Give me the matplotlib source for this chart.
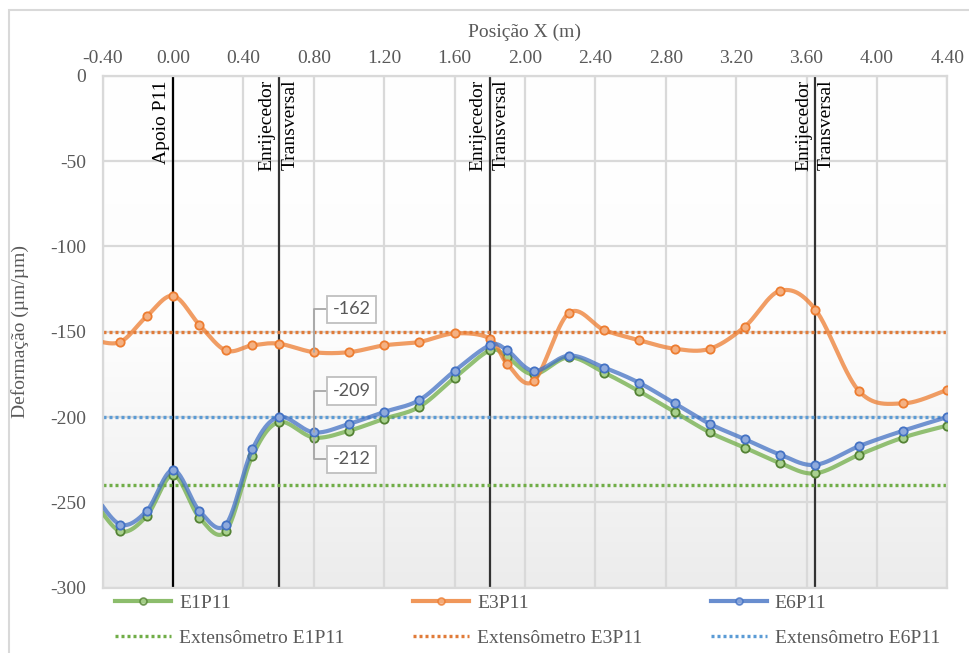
import numpy as np
import matplotlib
matplotlib.use('Agg')
import matplotlib.pyplot as plt
from matplotlib.lines import Line2D
from matplotlib.patches import Rectangle
from matplotlib.colors import LinearSegmentedColormap

plt.rcParams['axes.unicode_minus'] = False
plt.rcParams['font.family'] = ['Liberation Serif', 'DejaVu Serif']

# ---------------- data ----------------
x_pos = [-0.45, -0.30, -0.15, 0.00, 0.15, 0.30, 0.45, 0.60, 0.80, 1.00, 1.20, 1.40,
         1.60, 1.80, 1.90, 2.05, 2.25, 2.45, 2.65, 2.85, 3.05, 3.25, 3.45, 3.65,
         3.90, 4.15, 4.40]
e1p11 = [-249, -267, -258, -234, -259, -267, -223, -203, -212, -208, -201, -194,
         -177, -161, -165, -175, -165, -174, -185, -197, -209, -218, -227, -233,
         -222, -212, -205]
e3p11 = [-155, -156, -141, -129, -146, -161, -158, -157, -162, -162, -158, -156,
         -151, -154, -169, -179, -139, -149, -155, -160, -160, -147, -126, -137,
         -185, -192, -184]
e6p11 = [-245, -263, -255, -231, -255, -263, -219, -200, -209, -204, -197, -190,
         -173, -158, -161, -173, -164, -171, -180, -192, -204, -213, -222, -228,
         -217, -208, -200]

ext_e1p11 = -240
ext_e3p11 = -150
ext_e6p11 = -200

ref_x = [0.00, 0.60, 1.80, 3.65]

x_ticks = [-0.40, 0.00, 0.40, 0.80, 1.20, 1.60, 2.00, 2.40, 2.80, 3.20, 3.60, 4.00, 4.40]
y_ticks = [0, -50, -100, -150, -200, -250, -300]

# annotated values at x = 0.80
ann_x = 0.80
ann_e3 = -162
ann_e6 = -209
ann_e1 = -212


def excel_smooth(x, y, n=40):
    P = np.column_stack([np.asarray(x, float), np.asarray(y, float)])
    Pe = np.vstack([P[0], P, P[-1]])
    t = np.linspace(0, 1, n)[:, None]
    out = []
    for i in range(len(P) - 1):
        p0, p1, p2, p3 = Pe[i], Pe[i + 1], Pe[i + 2], Pe[i + 3]
        b1 = p1 + (p2 - p0) / 6.0
        b2 = p2 - (p3 - p1) / 6.0
        seg = (1 - t) ** 3 * p1 + 3 * t * (1 - t) ** 2 * b1 + 3 * t ** 2 * (1 - t) * b2 + t ** 3 * p2
        out.append(seg if i == 0 else seg[1:])
    return np.vstack(out)


W, H = 970, 653
fig = plt.figure(figsize=(W / 100, H / 100), dpi=100)
ax = fig.add_axes([102.7 / W, 1 - 587.7 / H, (947.3 - 102.7) / W, (587.7 - 75.7) / H])

# gradient background of plot area (white at top, light gray at bottom)
cmap = LinearSegmentedColormap.from_list('bg', ['#ffffff', '#fdfdfd', '#ececec'])
grad = np.linspace(0, 1, 256)[:, None]
ax.set_facecolor('none')
ax.imshow(grad, extent=[0, 1, 0, 1], origin='upper', transform=ax.transAxes,
          aspect='auto', cmap=cmap, zorder=-5, interpolation='bilinear')

ax.set_xlim(-0.40, 4.40)
ax.set_ylim(-300, 0)

grid_c = '#d9d9d9'
ax.set_xticks(x_ticks)
ax.set_yticks(y_ticks)
ax.set_xticklabels([f'{v:.2f}' for v in x_ticks])
ax.set_yticklabels([f'{v:d}' for v in y_ticks])
ax.grid(True, color=grid_c, lw=1.6, zorder=-4)
ax.set_axisbelow(True)
for s in ax.spines.values():
    s.set_color(grid_c)
    s.set_linewidth(1.6)

ax.xaxis.tick_top()
ax.xaxis.set_label_position('top')
ax.tick_params(axis='both', length=0, labelsize=14, colors='#595959')
ax.tick_params(axis='x', pad=6)
ax.tick_params(axis='y', pad=12)
ax.set_xlabel('Posição X (m)', fontsize=14, color='#595959', labelpad=10)
ax.set_ylabel('Deformação (µm/µm)', fontsize=14, color='#595959')
ax.yaxis.set_label_coords(-0.098, 0.5)
ax.yaxis.label.set_va('center')

# reference vertical lines
ref_cols = ['#000000', '#333333', '#333333', '#333333']
for xv, c in zip(ref_x, ref_cols):
    ax.axvline(xv, color=c, lw=1.6, zorder=1)

ytop = 1 - (80 - 75.7) / 512
ax.annotate('Apoio P11', xy=(ref_x[0], ytop), xycoords=('data', 'axes fraction'),
            xytext=(-8, 0), textcoords='offset points', rotation=90,
            ha='center', va='top', fontsize=14, color='black', zorder=6)
for xv in ref_x[1:]:
    ax.annotate('Enrijecedor', xy=(xv, ytop), xycoords=('data', 'axes fraction'),
                xytext=(-8.5, 0), textcoords='offset points', rotation=90,
                ha='center', va='top', fontsize=14, color='black', zorder=6)
    ax.annotate('Transversal', xy=(xv, ytop), xycoords=('data', 'axes fraction'),
                xytext=(8.0, 0), textcoords='offset points', rotation=90,
                ha='center', va='top', fontsize=14, color='black', zorder=6)

# extensometer dotted lines
dot = (0, (0.9, 0.9))
ax.axhline(ext_e1p11, color='#70ad47', lw=2.4, ls=dot, zorder=2)
ax.axhline(ext_e3p11, color='#e07b39', lw=2.4, ls=dot, zorder=2)
ax.axhline(ext_e6p11, color='#5b9bd5', lw=2.4, ls=dot, zorder=2)

# series
series = [
    (e1p11, '#70ad47', '#a9d18e', '#548235', 'E1P11'),
    (e3p11, '#ed7d31', '#f4b183', '#ed7d31', 'E3P11'),
    (e6p11, '#4472c4', '#8faadc', '#4472c4', 'E6P11'),
]
z = 3
for ys, lc, mf, me, lab in series:
    curve = excel_smooth(x_pos, ys)
    ax.plot(curve[:, 0], curve[:, 1], color=lc, lw=3.0, alpha=0.75, zorder=z,
            solid_capstyle='round')
    ax.plot(x_pos, ys, ls='none', marker='o', ms=6, mfc=mf, mec=me, mew=1.3, zorder=z + 0.5)
    z += 1

# data labels
ann_kw = dict(fontsize=13, color='#595959', family=['Lato', 'DejaVu Sans'],
              ha='center', va='center', zorder=8,
              bbox=dict(boxstyle='square,pad=0.33', fc='white', ec='#bfbfbf', lw=1.3))
lx = (351.5 - 173.1) / 175.96
def py(p):
    return -(p - 75.7) / 1.7067
arrow = dict(arrowstyle='-', color='#a6a6a6', lw=1.3, shrinkA=0, shrinkB=0,
             connectionstyle='angle,angleA=0,angleB=90,rad=0', relpos=(0, 0.5))
ax.annotate(f'{ann_e3}', xy=(ann_x, ann_e3), xytext=(lx, py(309.5)), textcoords='data',
            arrowprops=arrow, **ann_kw)
ax.annotate(f'{ann_e6}', xy=(ann_x, ann_e6), xytext=(lx, py(391.2)), textcoords='data',
            arrowprops=arrow, **ann_kw)
ax.annotate(f'{ann_e1}', xy=(ann_x, ann_e1), xytext=(lx, py(459.5)), textcoords='data',
            arrowprops=arrow, **ann_kw)

# legend
handles = [
    Line2D([], [], color='#70ad47', lw=3, alpha=0.8, marker='o', ms=5, mfc='#a9d18e', mec='#548235', mew=1.2),
    Line2D([], [], color='#70ad47', lw=2.4, ls=dot),
    Line2D([], [], color='#ed7d31', lw=3, alpha=0.8, marker='o', ms=5, mfc='#f4b183', mec='#ed7d31', mew=1.2),
    Line2D([], [], color='#e07b39', lw=2.4, ls=dot),
    Line2D([], [], color='#4472c4', lw=3, alpha=0.8, marker='o', ms=5, mfc='#8faadc', mec='#4472c4', mew=1.2),
    Line2D([], [], color='#5b9bd5', lw=2.4, ls=dot),
]
labels = ['E1P11', 'Extensômetro E1P11', 'E3P11', 'Extensômetro E3P11',
          'E6P11', 'Extensômetro E6P11']
leg = fig.legend(handles, labels, loc='upper left', ncol=3, mode='expand',
                 bbox_to_anchor=(115 / W, 0.0, (940 - 115) / W, 1 - 594 / H),
                 borderaxespad=0, borderpad=0, frameon=False, fontsize=14,
                 handlelength=2.9, handletextpad=0.4, labelspacing=0.9, numpoints=1)
for t in leg.get_texts():
    t.set_color('#595959')

# outer chart border
fig.add_artist(Rectangle((9 / W, -0.2), 2, 1.2 - 10 / H, transform=fig.transFigure,
                         fill=False, ec='#d9d9d9', lw=1.5))

fig.savefig('out.png', dpi=100)
